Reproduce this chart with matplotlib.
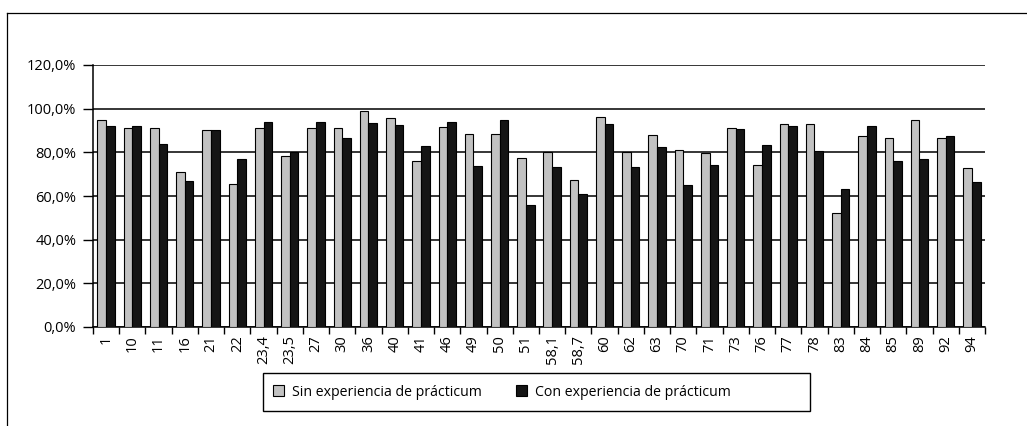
import matplotlib
matplotlib.use("Agg")
import matplotlib.pyplot as plt
from matplotlib.patches import Rectangle
from matplotlib.ticker import FuncFormatter, FixedLocator
import numpy as np

# categorías y porcentajes
categorias = ["1", "10", "11", "16", "21", "22", "23,4", "23,5", "27", "30",
              "36", "40", "41", "46", "49", "50", "51", "58,1", "58,7", "60",
              "62", "63", "70", "71", "73", "76", "77", "78", "83", "84",
              "85", "89", "92", "94"]
sin_practicum = [95.0, 91.2, 91.2, 70.8, 90.4, 65.3, 91.3, 78.3, 91.3, 91.3,
                 99.1, 95.5, 76.0, 91.5, 88.2, 88.3, 77.2, 80.0, 67.5, 96.0,
                 80.1, 88.0, 81.0, 79.5, 91.3, 74.2, 92.8, 92.8, 52.0, 87.4,
                 86.5, 94.6, 86.7, 73.0]
con_practicum = [91.9, 91.9, 83.9, 67.0, 90.4, 76.9, 93.9, 80.1, 93.9, 86.6,
                 93.3, 92.5, 82.8, 93.9, 73.7, 94.8, 56.0, 73.1, 60.8, 93.0,
                 73.4, 82.5, 65.1, 74.2, 90.5, 83.3, 92.2, 80.7, 63.0, 92.2,
                 76.2, 77.1, 87.4, 66.5]

plt.rcParams["font.family"] = ["Open Sans", "DejaVu Sans"]
W, H = 1027, 426

fig = plt.figure(figsize=(W / 100, H / 100), dpi=100)
ax = fig.add_axes([93 / W, 1 - 327 / H, 892 / W, 262 / H])

x = np.arange(len(categorias))
w = 0.33
ax.bar(x - w / 2, sin_practicum, w, color="#c2c2c2", edgecolor="black",
       linewidth=0.8, label="Sin experiencia de prácticum", zorder=3)
ax.bar(x + w / 2, con_practicum, w, color="#151515", edgecolor="black",
       linewidth=0.8, label="Con experiencia de prácticum", zorder=3)

ax.set_xlim(-0.5, len(categorias) - 0.5)
ax.set_ylim(0, 120)
ax.set_yticks(np.arange(0, 121, 20))
ax.yaxis.set_major_formatter(FuncFormatter(lambda v, p: f"{v:.1f}%".replace(".", ",")))
ax.yaxis.grid(True, color="black", linewidth=1.1, zorder=0)

# marcas entre categorías, etiquetas en el centro
ax.xaxis.set_major_locator(FixedLocator(np.arange(-0.5, len(categorias), 1)))
ax.xaxis.set_minor_locator(FixedLocator(x))
ax.set_xticklabels([])
ax.set_xticklabels(categorias, minor=True, rotation=90, fontsize=10.5)
ax.tick_params(axis="x", which="major", length=5, width=1, direction="out")
ax.tick_params(axis="x", which="minor", length=0, pad=6)
ax.tick_params(axis="y", length=7, width=1, direction="out", labelsize=10.5, pad=5)

for s in ["top", "right"]:
    ax.spines[s].set_visible(False)
ax.spines["left"].set_linewidth(1.1)
ax.spines["bottom"].set_linewidth(1.1)

leg = fig.legend(loc="center left", bbox_to_anchor=(266 / W, 1 - 392 / H),
                 ncol=2, fontsize=10.2, frameon=False,
                 handlelength=0.75, handleheight=0.75,
                 columnspacing=2.4, handletextpad=0.6, borderpad=0.0)
for h in leg.legend_handles:
    h.set_linewidth(0.8)

# recuadro de la leyenda (más ancho que su contenido)
fig.add_artist(Rectangle((263 / W, 1 - 411 / H), 547 / W, 38 / H,
                         transform=fig.transFigure, fill=False,
                         edgecolor="black", linewidth=1.0))

# marco exterior escaneado (izquierda y arriba)
fig.add_artist(plt.Line2D([7 / W, 7 / W], [0, 1 - 13 / H],
                          transform=fig.transFigure, color="black", linewidth=0.9))
fig.add_artist(plt.Line2D([7 / W, 1], [1 - 13 / H, 1 - 13 / H],
                          transform=fig.transFigure, color="black", linewidth=0.9))

fig.savefig("out.png", dpi=100)
